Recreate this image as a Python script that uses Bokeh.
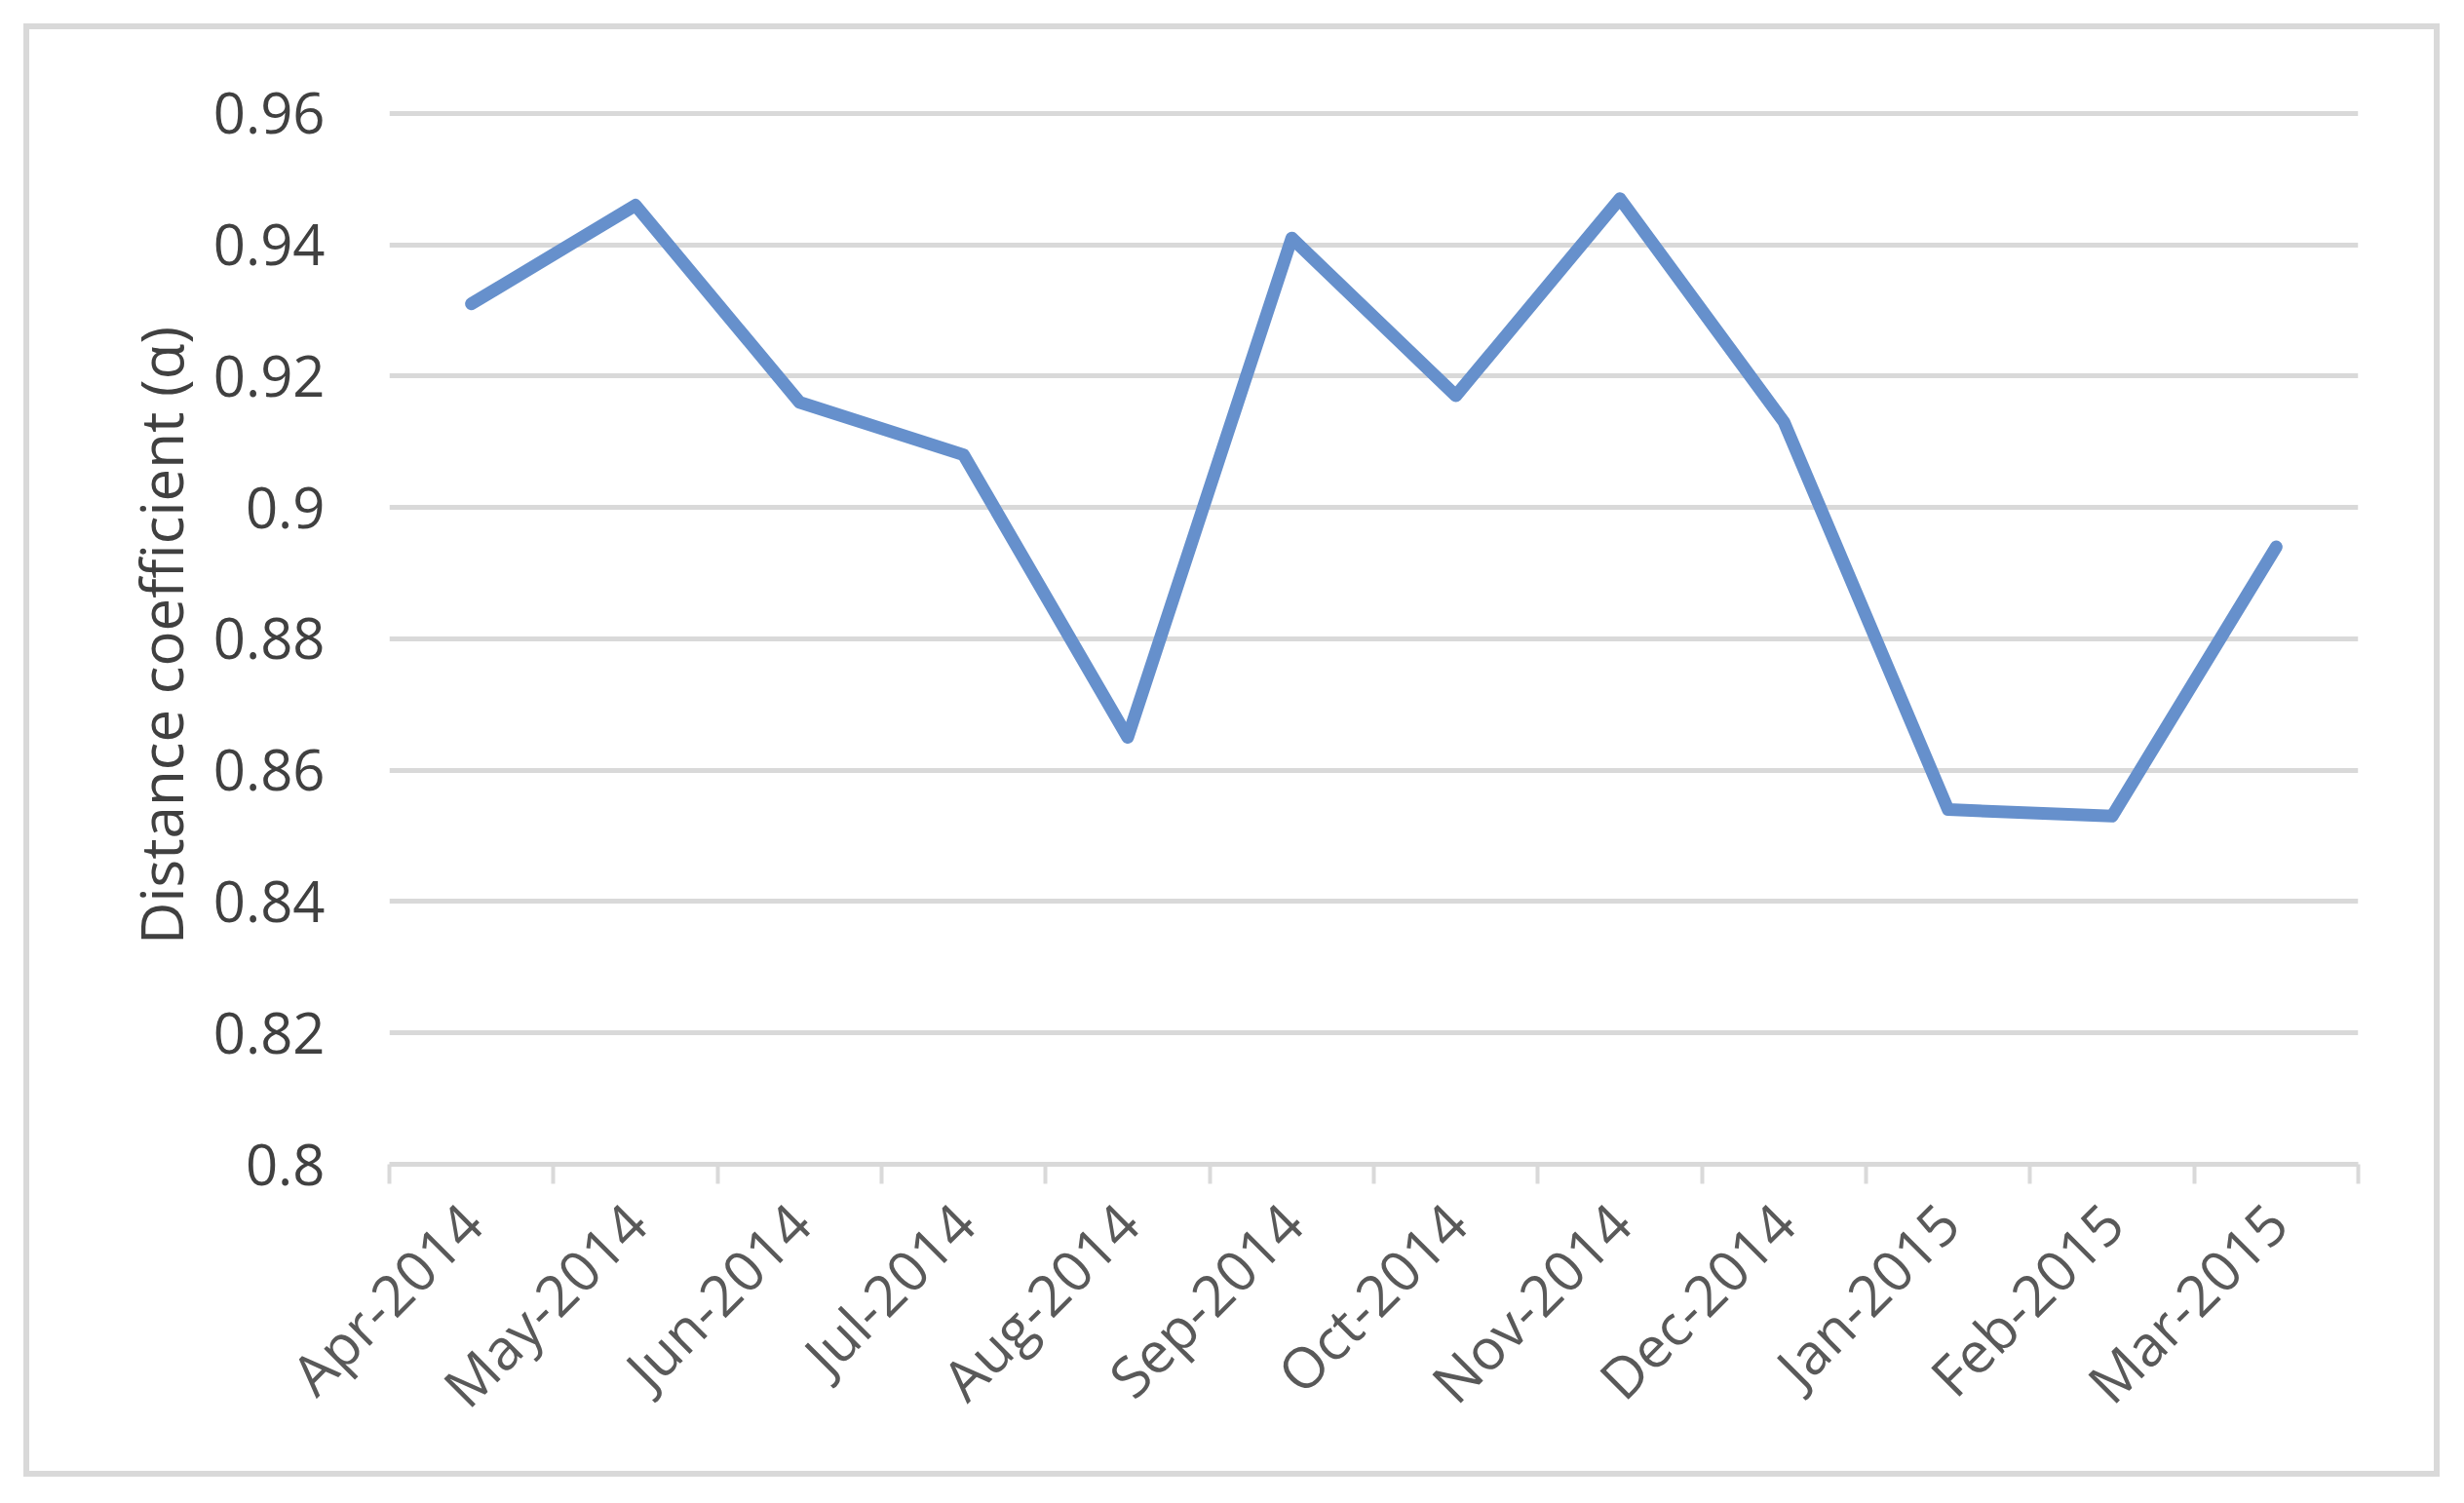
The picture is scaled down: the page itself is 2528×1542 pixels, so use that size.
import math
from bokeh.plotting import figure
from bokeh.models import Range1d, FixedTicker
from bokeh.embed import file_html
from bokeh.resources import INLINE

months = ["Apr-2014", "May-2014", "Jun-2014", "Jul-2014", "Aug-2014", "Sep-2014",
          "Oct-2014", "Nov-2014", "Dec-2014", "Jan-2015", "Feb-2015", "Mar-2015"]
alpha = [0.931, 0.946, 0.916, 0.908, 0.865, 0.941, 0.917, 0.947, 0.913, 0.854, 0.853, 0.894]
y_ticks = [0.8, 0.82, 0.84, 0.86, 0.88, 0.9, 0.92, 0.94, 0.96]
y_tick_labels = ["0.8", "0.82", "0.84", "0.86", "0.88", "0.9", "0.92", "0.94", "0.96"]
y_title = "Distance coefficient (α)"

x_centers = [i + 0.5 for i in range(len(months))]
x_bounds = list(range(len(months) + 1))

FONT = "Open Sans"

p = figure(width=2479, height=1491,
           x_range=Range1d(0, len(months)), y_range=Range1d(0.8, 0.961),
           output_backend="svg", toolbar_location=None,
           min_border_left=369, min_border_right=90,
           min_border_top=79, min_border_bottom=327)
p.margin = (24, 0, 0, 24)
p.styles = {"border": "6px solid #d9d9d9", "box-sizing": "border-box"}
p.outline_line_color = None
p.background_fill_color = "white"
p.border_fill_color = "white"

p.line(x_centers, alpha, line_color="#6690CC", line_width=13,
       line_join="round", line_cap="round")

# y axis
p.yaxis.ticker = FixedTicker(ticks=y_ticks)
p.yaxis.major_label_overrides = dict(zip(y_ticks, y_tick_labels))
p.yaxis.axis_line_color = None
p.yaxis.major_tick_line_color = None
p.yaxis.minor_tick_line_color = None
p.yaxis.major_label_standoff = 60
p.yaxis.major_label_text_font = FONT
p.yaxis.major_label_text_font_size = "58px"
p.yaxis.major_label_text_color = "#404040"
p.yaxis.axis_label = y_title
p.yaxis.axis_label_text_font = FONT
p.yaxis.axis_label_text_font_size = "60px"
p.yaxis.axis_label_text_font_style = "normal"
p.yaxis.axis_label_text_color = "#404040"
p.yaxis.axis_label_standoff = 10

p.ygrid.grid_line_color = "#D9D9D9"
p.ygrid.grid_line_width = 5
p.xgrid.grid_line_color = None

# x axis
p.xaxis.ticker = FixedTicker(ticks=x_centers, minor_ticks=x_bounds)
p.xaxis.major_label_overrides = dict(zip(x_centers, months))
p.xaxis.axis_line_color = "#D9D9D9"
p.xaxis.axis_line_width = 5
p.xaxis.major_tick_line_color = None
p.xaxis.major_tick_out = 0
p.xaxis.major_tick_in = 0
p.xaxis.minor_tick_line_color = "#D9D9D9"
p.xaxis.minor_tick_line_width = 4
p.xaxis.minor_tick_out = 20
p.xaxis.minor_tick_in = 0
p.xaxis.major_label_orientation = math.pi / 4
p.xaxis.major_label_standoff = 30
p.xaxis.major_label_text_font = FONT
p.xaxis.major_label_text_font_size = "58px"
p.xaxis.major_label_text_color = "#595959"

open("out.html", "w").write(file_html(p, INLINE))
